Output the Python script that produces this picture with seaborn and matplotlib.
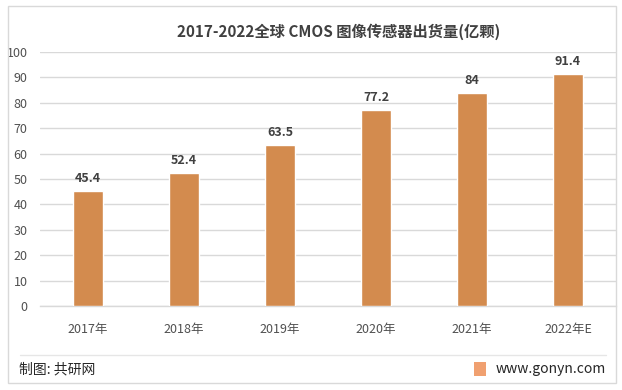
import numpy as np
import pandas as pd
import matplotlib
matplotlib.use("Agg")
import matplotlib.pyplot as plt
import seaborn as sns
from matplotlib.patches import Rectangle
from matplotlib.lines import Line2D


YEARS  = ["2017年", "2018年", "2019年", "2020年", "2021年", "2022年E"]
VALUES = [45.4, 52.4, 63.5, 77.2, 84, 91.4]
LABELS = ["45.4", "52.4", "63.5", "77.2", "84", "91.4"]
Y_TICKS = [0, 10, 20, 30, 40, 50, 60, 70, 80, 90, 100]

TITLE  = "2017-2022全球 CMOS 图像传感器出货量(亿颗)"
SOURCE = "制图: 共研网"
SITE   = "www.gonyn.com"

BAR_COLOR  = "#D38B4E"
TEXT_COLOR = "#404040"
GRID_COLOR = "#D9D9D9"

sns.set_theme(style="white")
plt.rcParams["font.family"] = ["Noto Sans CJK SC", "DejaVu Sans"]

df = pd.DataFrame({"year": YEARS, "value": VALUES})

W, H = 622, 390
fig = plt.figure(figsize=(W / 100, H / 100), dpi=100)
ax = fig.add_axes([40 / W, 1 - 306 / H, 576 / W, 254 / H])

sns.barplot(data=df, x="year", y="value", color=BAR_COLOR, width=0.31,
            saturation=1, ax=ax, zorder=3)

ax.set_xlim(-0.5, len(YEARS) - 0.5)
ax.set_ylim(0, 100)
ax.set_yticks(Y_TICKS)
ax.yaxis.grid(True, color=GRID_COLOR, linewidth=1, zorder=0)
ax.set_axisbelow(True)
ax.set_xlabel("")
ax.set_ylabel("")

for s in ["top", "right", "left"]:
    ax.spines[s].set_visible(False)
ax.spines["bottom"].set_color(GRID_COLOR)
ax.spines["bottom"].set_linewidth(1)

ax.tick_params(axis="y", length=0, pad=9, labelsize=9, labelcolor="#505050")
ax.tick_params(axis="x", which="major", length=0, pad=12, labelsize=9,
               labelcolor="#505050")
ax.set_xticks(np.arange(-0.5, len(YEARS)), minor=True)
ax.tick_params(axis="x", which="minor", length=4, color=GRID_COLOR, width=1)

for i, (v, lab) in enumerate(zip(VALUES, LABELS)):
    ax.text(i, v + 2.2, lab, ha="center", va="bottom", fontsize=9,
            fontweight="bold", color=TEXT_COLOR)

fig.text(339 / W, 1 - 32 / H, TITLE, ha="center", va="center",
         fontsize=11, fontweight="bold", color=TEXT_COLOR)

# frame and footer
fig.patches.append(Rectangle((8 / W, 1 - 383 / H), 608 / W, 377 / H,
                             transform=fig.transFigure, fill=False,
                             edgecolor=GRID_COLOR, linewidth=1))
fig.lines.append(Line2D([20 / W, 606 / W], [1 - 355 / H, 1 - 355 / H],
                        transform=fig.transFigure, color="#E6E6E6", linewidth=1))
fig.text(19 / W, 1 - 369 / H, SOURCE, ha="left", va="center",
         fontsize=10, color="#262626")
fig.patches.append(Rectangle((474 / W, 1 - 376 / H), 12 / W, 14 / H,
                             transform=fig.transFigure, color="#F0A070",
                             linewidth=0))
fig.text(606 / W, 1 - 369 / H, SITE, ha="right", va="center",
         fontsize=10, color="#262626")

fig.savefig("out.png", dpi=100)
